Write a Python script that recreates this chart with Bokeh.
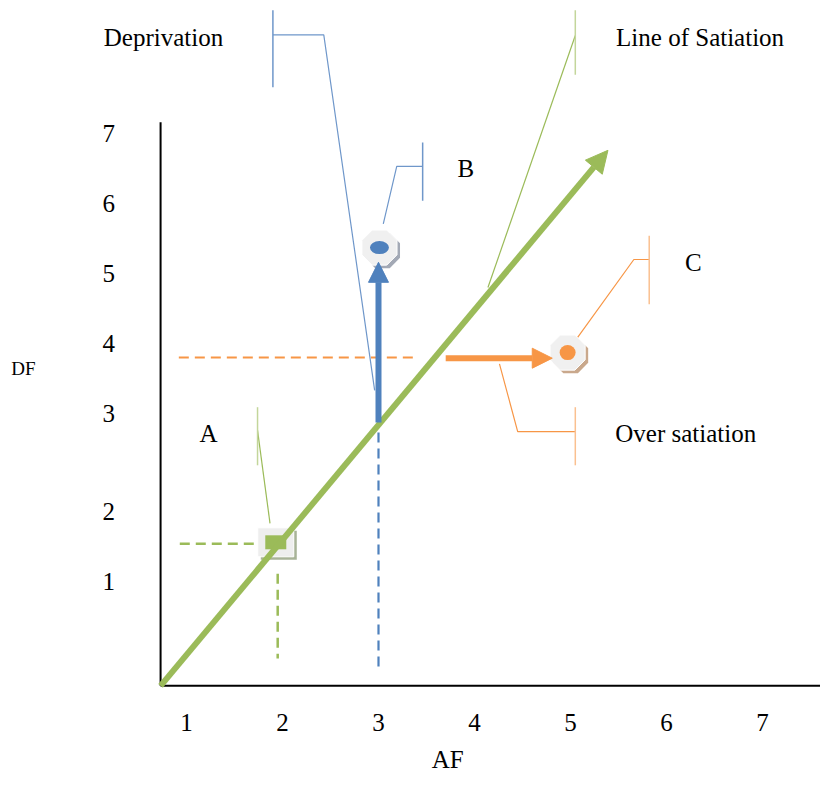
import math
from bokeh.plotting import figure
from bokeh.models import Range1d, Arrow, NormalHead
from bokeh.core.properties import value
from bokeh.embed import file_html
from bokeh.resources import INLINE

FONT = value("Liberation Serif")

# ---- tick labels (positions in chart units) ----
x_tick_labels = ["1", "2", "3", "4", "5", "6", "7"]
x_tick_pos = [1, 2, 3, 4, 5, 6, 7]
y_tick_labels = ["1", "2", "3", "4", "5", "6", "7"]
y_tick_pos = [1.0, 2.0, 3.4, 4.4, 5.4, 6.4, 7.4]
x_tick_row = -1.01
y_tick_col = 0.19

# ---- axes frame ----
axis_x0 = 0.73
axis_y0 = -0.49
x_axis_end = 7.75
y_axis_end = 7.56

# ---- line of satiation ----
sat_x = [0.73, 5.39]
sat_y = [-0.49, 7.16]

# ---- points ----
pt_A = [1.93, 1.56]
pt_B = [3.01, 5.77]
pt_C = [4.97, 4.27]

# ---- movement arrows ----
dep_arrow_x = [3.0, 3.0]
dep_arrow_y = [3.27, 5.56]
over_arrow_x = [3.70, 4.81]
over_arrow_y = [4.19, 4.19]

# ---- dashed guides ----
orange_dash_x = [0.92, 3.39]
orange_dash_y = [4.2, 4.2]
blue_dash_x = [3.0, 3.0]
blue_dash_y = [3.13, -0.24]
green_hdash_x = [0.93, 1.74]
green_hdash_y = [1.54, 1.54]
green_vdash_x = [1.95, 1.95]
green_vdash_y = [1.11, -0.10]

# ---- callouts: leader polylines and end bars ----
dep_leader_x = [1.90, 2.43, 2.96]
dep_leader_y = [8.81, 8.81, 3.73]
dep_bar_x = [1.90, 1.90]
dep_bar_y = [9.16, 8.06]

b_leader_x = [3.46, 3.19, 3.05]
b_leader_y = [6.93, 6.93, 6.11]
b_bar_x = [3.46, 3.46]
b_bar_y = [7.27, 6.44]

sat_leader_x = [5.05, 4.14]
sat_leader_y = [8.80, 5.20]
sat_bar_x = [5.05, 5.05]
sat_bar_y = [9.16, 8.24]

c_leader_x = [5.82, 5.66, 5.05]
c_leader_y = [5.60, 5.60, 4.44]
c_bar_x = [5.82, 5.82]
c_bar_y = [5.94, 4.96]

os_leader_x = [5.05, 4.45, 4.26]
os_leader_y = [3.14, 3.14, 4.11]
os_bar_x = [5.05, 5.05]
os_bar_y = [3.49, 2.66]

a_leader_x = [1.74, 1.87]
a_leader_y = [3.16, 1.83]
a_bar_x = [1.74, 1.74]
a_bar_y = [3.49, 2.66]

# ---- text labels ----
label_text = ["Deprivation", "Line of Satiation", "B", "C", "A", "Over satiation", "AF"]
label_x = [0.76, 6.35, 3.91, 6.28, 1.23, 6.20, 3.72]
label_y = [8.77, 8.77, 6.90, 5.56, 3.11, 3.11, -1.54]
df_text = ["DF"]
df_x = [-0.70]
df_y = [4.04]

GREEN = "#9BBB59"
BLUE = "#4F81BD"
ORANGE = "#F79646"

W, H = 820, 778
xr = Range1d(-0.9375, 7.6042)
yr = Range1d(-1.8143, 9.3)
p = figure(width=W, height=H, x_range=xr, y_range=yr, output_backend="svg",
           toolbar_location=None, x_axis_type=None, y_axis_type=None,
           min_border=0, outline_line_color=None)
p.grid.visible = False
px_x = (xr.end - xr.start) / W
px_y = (yr.end - yr.start) / H

# axes
p.line([axis_x0, axis_x0], [axis_y0, y_axis_end], line_color="black", line_width=2)
p.line([axis_x0, x_axis_end], [axis_y0, axis_y0], line_color="black", line_width=2)

# tick labels
p.text(x=x_tick_pos, y=[x_tick_row] * len(x_tick_pos), text=x_tick_labels,
       text_font=FONT, text_font_size="25px", text_align="center", text_baseline="middle",
       text_color="black")
p.text(x=[y_tick_col] * len(y_tick_pos), y=y_tick_pos, text=y_tick_labels,
       text_font=FONT, text_font_size="25px", text_align="center", text_baseline="middle",
       text_color="black")

# dashed guides
p.line(orange_dash_x, orange_dash_y, line_color=ORANGE, line_width=2.2, line_dash="10 6")
p.line(blue_dash_x, blue_dash_y, line_color=BLUE, line_width=2.2, line_dash="10 6")
p.line(green_hdash_x, green_hdash_y, line_color=GREEN, line_width=2.5, line_dash="10 6")
p.line(green_vdash_x, green_vdash_y, line_color=GREEN, line_width=2.5, line_dash="10 6")

# callouts
LB = "#6F97CA"
p.line(dep_leader_x, dep_leader_y, line_color=LB, line_width=1.2)
p.line(dep_bar_x, dep_bar_y, line_color=LB, line_width=1.5)
p.line(b_leader_x, b_leader_y, line_color=LB, line_width=1.2)
p.line(b_bar_x, b_bar_y, line_color=LB, line_width=1.5)
p.line(sat_leader_x, sat_leader_y, line_color=GREEN, line_width=1.2)
p.line(sat_bar_x, sat_bar_y, line_color="#C3D69B", line_width=1.5)
p.line(c_leader_x, c_leader_y, line_color=ORANGE, line_width=1.2)
p.line(c_bar_x, c_bar_y, line_color="#FAC090", line_width=1.5)
p.line(os_leader_x, os_leader_y, line_color=ORANGE, line_width=1.2)
p.line(os_bar_x, os_bar_y, line_color="#FAC090", line_width=1.5)
p.line(a_leader_x, a_leader_y, line_color=GREEN, line_width=1.2)
p.line(a_bar_x, a_bar_y, line_color="#C3D69B", line_width=1.5)

# arrows
p.add_layout(Arrow(end=NormalHead(size=22, fill_color=GREEN, line_color=GREEN),
                   x_start=sat_x[0], y_start=sat_y[0], x_end=sat_x[1], y_end=sat_y[1],
                   line_color=GREEN, line_width=6))
p.add_layout(Arrow(end=NormalHead(size=20, fill_color=BLUE, line_color=BLUE),
                   x_start=dep_arrow_x[0], y_start=dep_arrow_y[0], x_end=dep_arrow_x[1],
                   y_end=dep_arrow_y[1], line_color=BLUE, line_width=6))
p.add_layout(Arrow(end=NormalHead(size=20, fill_color=ORANGE, line_color=ORANGE),
                   x_start=over_arrow_x[0], y_start=over_arrow_y[0], x_end=over_arrow_x[1],
                   y_end=over_arrow_y[1], line_color=ORANGE, line_width=6))

# point A: square marker with shadow
sdx, sdy = 3 * px_x, -3 * px_y
p.rect(x=[pt_A[0] + sdx], y=[pt_A[1] + sdy], width=36, height=29, width_units="screen",
       height_units="screen", fill_color="#A8B398", line_color=None)
p.rect(x=[pt_A[0]], y=[pt_A[1]], width=36, height=29, width_units="screen",
       height_units="screen", fill_color="#EEEEEE", line_color="white", line_width=1)
p.rect(x=[pt_A[0]], y=[pt_A[1]], width=21, height=14, width_units="screen",
       height_units="screen", fill_color=GREEN, line_color=None)

# points B and C: octagon markers with shadow
def octagon(x, y, shadow):
    try:
        p.ngon(x=[x + sdx], y=[y + sdy], radius=19, radius_units="screen", n=8,
               angle=math.pi / 8, fill_color=shadow, line_color=None)
        p.ngon(x=[x], y=[y], radius=19, radius_units="screen", n=8,
               angle=math.pi / 8, fill_color="#F0F0F0", line_color="white", line_width=1)
    except Exception:
        p.scatter(x=[x + sdx], y=[y + sdy], size=36, marker="circle", fill_color=shadow,
                  line_color=None)
        p.scatter(x=[x], y=[y], size=36, marker="circle", fill_color="#F0F0F0",
                  line_color="white")

octagon(pt_B[0], pt_B[1], "#A3A9B5")
p.ellipse(x=[pt_B[0]], y=[pt_B[1]], width=19, height=13, width_units="screen",
          height_units="screen", fill_color=BLUE, line_color=None)
octagon(pt_C[0], pt_C[1], "#C9A88C")
p.ellipse(x=[pt_C[0]], y=[pt_C[1]], width=16, height=15, width_units="screen",
          height_units="screen", fill_color=ORANGE, line_color=None)

# text labels
p.text(x=label_x, y=label_y, text=label_text, text_font=FONT, text_font_size="25px",
       text_align="center", text_baseline="middle", text_color="black")
p.text(x=df_x, y=df_y, text=df_text, text_font=FONT, text_font_size="19px",
       text_align="center", text_baseline="middle", text_color="black")

open("out.html", "w").write(file_html(p, INLINE))
